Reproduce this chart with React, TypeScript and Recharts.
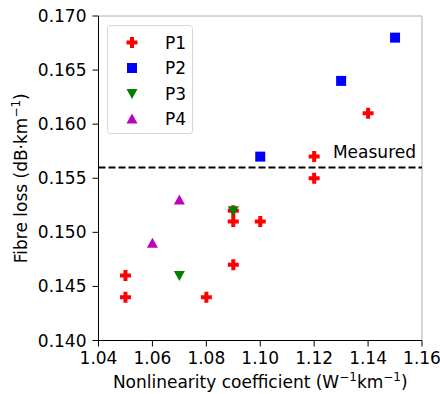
import React from 'react';
import { ScatterChart, Scatter, XAxis, YAxis, CartesianGrid, ReferenceLine } from 'recharts';

const p1 = [
  { x: 1.05, y: 0.146 }, { x: 1.05, y: 0.144 }, { x: 1.08, y: 0.144 }, { x: 1.09, y: 0.147 },
  { x: 1.09, y: 0.151 }, { x: 1.09, y: 0.152 }, { x: 1.10, y: 0.151 }, { x: 1.12, y: 0.155 },
  { x: 1.12, y: 0.157 }, { x: 1.14, y: 0.161 },
];
const p2 = [{ x: 1.10, y: 0.157 }, { x: 1.13, y: 0.164 }, { x: 1.15, y: 0.168 }];
const p3 = [{ x: 1.07, y: 0.146 }, { x: 1.09, y: 0.152 }];
const p4 = [{ x: 1.06, y: 0.149 }, { x: 1.07, y: 0.153 }];
const measured = 0.156;

const xTicks = [1.04, 1.06, 1.08, 1.10, 1.12, 1.14, 1.16];
const yTicks = [0.140, 0.145, 0.150, 0.155, 0.160, 0.165, 0.170];

const FONT = 'DejaVu Sans';
const FS = 17;
const SUP = 12;

function Plus({ cx, cy, fill }: any) {
  const a = 5.5, t = 2;
  const d = `M${cx - t},${cy - a}H${cx + t}V${cy - t}H${cx + a}V${cy + t}H${cx + t}V${cy + a}H${cx - t}V${cy + t}H${cx - a}V${cy - t}H${cx - t}Z`;
  return <path d={d} fill={fill} />;
}
function Square({ cx, cy, fill }: any) {
  return <rect x={cx - 5} y={cy - 5} width={10} height={10} fill={fill} />;
}
function TriDown({ cx, cy, fill }: any) {
  return <path d={`M${cx - 5.5},${cy - 4.5}L${cx + 5.5},${cy - 4.5}L${cx},${cy + 5.5}Z`} fill={fill} />;
}
function TriUp({ cx, cy, fill }: any) {
  return <path d={`M${cx - 5.5},${cy + 4.5}L${cx + 5.5},${cy + 4.5}L${cx},${cy - 5.5}Z`} fill={fill} />;
}

const series = [
  { name: 'P1', data: p1, color: '#ff0000', shape: Plus },
  { name: 'P2', data: p2, color: '#0000ff', shape: Square },
  { name: 'P3', data: p3, color: '#008000', shape: TriDown },
  { name: 'P4', data: p4, color: '#bf00bf', shape: TriUp },
];

function LegendBox() {
  return (
    <svg width={86} height={110} style={{ position: 'absolute', left: 107, top: 25 }}>
      <rect x={0.5} y={0.5} width={85} height={108} rx={3} fill="rgba(255,255,255,0.8)" stroke="#d6d6d6" />
      {series.map((s, i) => {
        const Shape = s.shape;
        const cy = 17.5 + i * 25.5;
        return (
          <g key={s.name}>
            <Shape cx={25} cy={cy} fill={s.color} />
            <text x={58} y={cy} dy="0.36em" fontFamily={FONT} fontSize={FS} fill="#000">{s.name}</text>
          </g>
        );
      })}
    </svg>
  );
}

export default function App() {
  return (
    <div style={{ position: 'absolute', left: 0, top: 0, width: 440, height: 394, background: '#fff' }}>
      <ScatterChart width={440} height={394} margin={{ top: 16, right: 18, left: 0, bottom: 0 }}>
        <CartesianGrid stroke="#b0b0b0" strokeWidth={1} />
        <XAxis
          xAxisId="b" type="number" dataKey="x" domain={[1.04, 1.16]} ticks={xTicks}
          tickFormatter={(v: number) => v.toFixed(2)} height={53.5} tickSize={6} tickMargin={5}
          stroke="#000" tick={{ fill: '#000', fontFamily: FONT, fontSize: FS }} allowDataOverflow
          label={(p: any) => {
            const vb = p.viewBox;
            return (
              <text x={vb.x + vb.width / 2} y={388} textAnchor="middle" fontFamily={FONT} fontSize={FS} fill="#000">
                Nonlinearity coefficient (W
                <tspan fontSize={SUP} dy={-7}>−1</tspan>
                <tspan dy={7}>km</tspan>
                <tspan fontSize={SUP} dy={-7}>−1</tspan>
                <tspan dy={7}>)</tspan>
              </text>
            );
          }}
        />
        <XAxis xAxisId="t" orientation="top" type="number" dataKey="x" domain={[1.04, 1.16]} height={0} tick={false} tickLine={false} stroke="#000" allowDataOverflow />
        <YAxis
          yAxisId="l" type="number" dataKey="y" domain={[0.14, 0.17]} ticks={yTicks}
          tickFormatter={(v: number) => v.toFixed(3)} width={98.5} tickSize={6} tickMargin={6}
          stroke="#000" tick={{ fill: '#000', fontFamily: FONT, fontSize: FS }} allowDataOverflow
          label={(p: any) => {
            const vb = p.viewBox;
            const cy = vb.y + vb.height / 2;
            return (
              <g transform={`rotate(-90 27 ${cy})`}>
                <text x={27} y={cy} textAnchor="middle" fontFamily={FONT} fontSize={FS} fill="#000">
                  Fibre loss (dB·km
                  <tspan fontSize={SUP} dy={-7}>−1</tspan>
                  <tspan dy={7}>)</tspan>
                </text>
              </g>
            );
          }}
        />
        <YAxis yAxisId="r" orientation="right" type="number" dataKey="y" domain={[0.14, 0.17]} width={0} tick={false} tickLine={false} stroke="#000" allowDataOverflow />
        {series.map((s) => (
          <Scatter
            key={s.name} name={s.name} data={s.data} fill={s.color} xAxisId="b" yAxisId="l"
            shape={s.shape} isAnimationActive={false}
          />
        ))}
        <ReferenceLine
          xAxisId="b" yAxisId="l" y={measured} stroke="#000" strokeWidth={2} strokeDasharray="7 3"
          label={(p: any) => {
            const vb = p.viewBox;
            return (
              <text x={vb.x + vb.width - 6} y={vb.y - 9} textAnchor="end" fontFamily={FONT} fontSize={FS} fill="#000">
                Measured
              </text>
            );
          }}
        />
      </ScatterChart>
      <LegendBox />
    </div>
  );
}
